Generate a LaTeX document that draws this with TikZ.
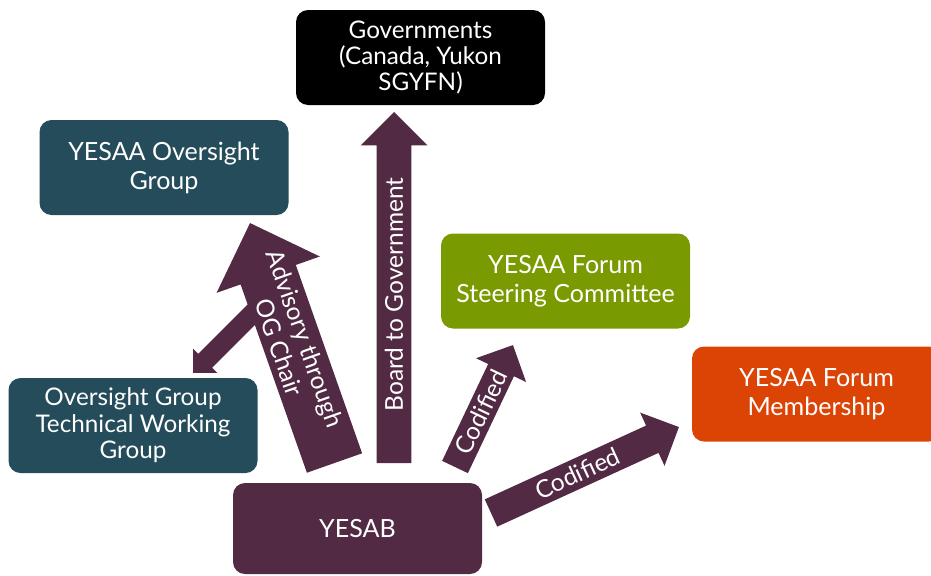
\documentclass[tikz,border=0pt]{standalone}
\usepackage{fontspec}
\setmainfont{Lato}
\usetikzlibrary{shapes.arrows}

\definecolor{yesabpurple}{HTML}{522A44}
\definecolor{ogteal}{HTML}{244C5A}
\definecolor{forumgreen}{HTML}{7A9A01}
\definecolor{memberorange}{HTML}{DC4405}

\tikzset{
  box/.style = {rounded corners=9pt, minimum width=186.75pt, minimum height=71.25pt,
                text=white, align=center, inner sep=2pt},
  bigtext/.style = {font=\fontsize{18.8}{21.75}\selectfont},
  smalltext/.style = {font=\fontsize{18.2}{19.8}\selectfont},
  blockarrow/.style = {single arrow, fill=yesabpurple, inner xsep=0pt,
                       minimum width=0pt, outer sep=0pt, pos=0, anchor=tail,
                       sloped, allow upside down},
  arrowtext/.style = {text=white, align=center, inner sep=0pt,
                      font=\fontsize{18.4}{20.5}\selectfont}
}

\begin{document}
\begin{tikzpicture}[x=0.75pt, y=-0.75pt]
    \clip (0,0) rectangle (931,575);

    % boxes
    \node[box, fill=black, smalltext] (gov) at (420.5,57.5) {Governments\\(Canada, Yukon\\SGYFN)};
    \node[box, fill=ogteal, bigtext] (og) at (164,167.5) {YESAA Oversight\\Group};
    \node[box, fill=forumgreen, bigtext] (steer) at (565.5,281) {YESAA Forum\\Steering Committee};
    \node[box, fill=memberorange, bigtext] (member) at (816.5,394) {YESAA Forum\\Membership};
    \node[box, fill=ogteal, smalltext] (tech) at (133,425.5) {Oversight Group\\Technical Working\\Group};
    \node[box, fill=yesabpurple, bigtext, minimum height=68.25pt] (yesab) at (357.5,528.5) {YESAB};

    % arrow ends
    \coordinate (techtail) at (266,300);
    \coordinate (techtip) at (193,373);
    \coordinate (ogtail) at (334.5,463);
    \coordinate (ogtip) at (250,223);
    \coordinate (govtail) at (394,463);
    \coordinate (govtip) at (394,112);
    \coordinate (steertail) at (455,467);
    \coordinate (steertip) at (513,345);
    \coordinate (membertail) at (491,513);
    \coordinate (membertip) at (679,427);

    % block arrows (shaft = 2 inner ysep, head = shaft + 2 extend)
    \path (techtail) -- (techtip)
      node[blockarrow, minimum height=77.4pt, inner ysep=7.1pt,
           single arrow head extend=5.6pt] (techarrow) {};
    \path (ogtail) -- (ogtip)
      node[blockarrow, minimum height=190.8pt, inner ysep=21.75pt,
           single arrow head extend=19.1pt] (ogarrow) {}
      node[arrowtext, pos=0.5, sloped] (oglabel) {Advisory through\\OG Chair};
    \path (govtail) -- (govtip)
      node[blockarrow, minimum height=263.25pt, inner ysep=12.75pt,
           single arrow head extend=12pt] (govarrow) {}
      node[arrowtext, pos=0.48, rotate=90] (govlabel) {Board to Government};
    \path (steertail) -- (steertip)
      node[blockarrow, minimum height=101.25pt, inner ysep=10.5pt,
           single arrow head extend=10.1pt] (steerarrow) {}
      node[arrowtext, pos=0.45, sloped] (steerlabel) {Codified};
    \path (membertail) -- (membertip)
      node[blockarrow, minimum height=155pt, inner ysep=11.05pt,
           single arrow head extend=10.7pt] (memberarrow) {}
      node[arrowtext, pos=0.46, sloped] (memberlabel) {Codified};
\end{tikzpicture}
\end{document}
